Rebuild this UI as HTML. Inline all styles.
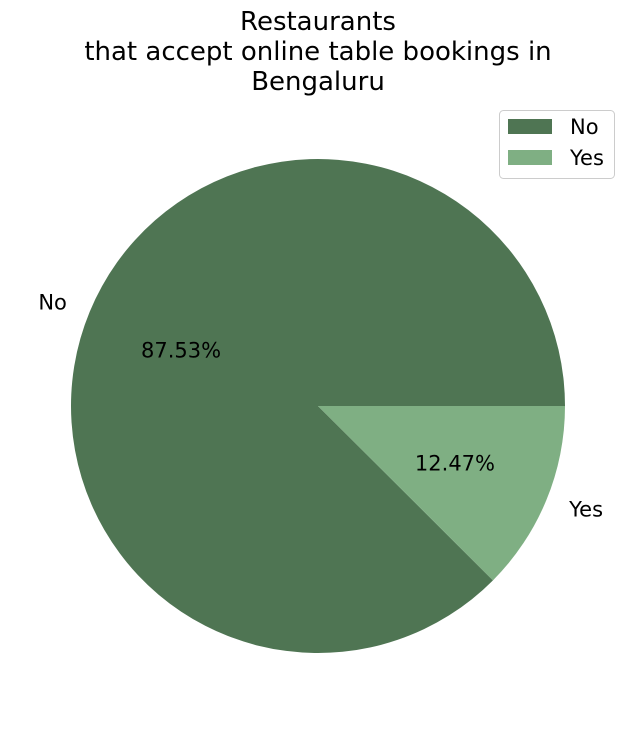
<!DOCTYPE html>
<html><head><meta charset="utf-8"><style>
body{margin:0;background:#fff;font-family:"Liberation Sans","DejaVu Sans",sans-serif;}
svg text{font-family:"DejaVu Sans","Liberation Sans",sans-serif;}
</style></head><body>
<svg id="chart" width="636" height="724">
<g>
<text x="318" y="30" font-size="26" text-anchor="middle">Restaurants</text>
<text x="318" y="60" font-size="26" text-anchor="middle">that accept online table bookings in</text>
<text x="318" y="90" font-size="26" text-anchor="middle">Bengaluru</text>
</g>
<g id="slices"></g>
<g>
<rect x="499.5" y="110.5" width="115" height="68" rx="4" fill="#fff" stroke="#ccc"/>
<rect x="508" y="119" width="44" height="15" fill="#4f7553"/>
<text x="570" y="134" font-size="21">No</text>
<rect x="508" y="150" width="44" height="15" fill="#7faf83"/>
<text x="570" y="165" font-size="21">Yes</text>
</g>
</svg>
<script>
const categories = ["No", "Yes"];
const values = [87.53, 12.47];
const colors = ["#4f7553", "#7faf83"];
const cx = 318, cy = 406, r = 247;
const g = document.getElementById('slices');
const ns = 'http://www.w3.org/2000/svg';
const total = values.reduce((a, b) => a + b, 0);
let start = 0;
values.forEach((v, i) => {
  const sweep = v / total * 2 * Math.PI;
  const end = start + sweep;
  const x1 = cx + r * Math.cos(start), y1 = cy - r * Math.sin(start);
  const x2 = cx + r * Math.cos(end), y2 = cy - r * Math.sin(end);
  const large = sweep > Math.PI ? 1 : 0;
  const p = document.createElementNS(ns, 'path');
  p.setAttribute('d', `M${cx},${cy} L${x1},${y1} A${r},${r} 0 ${large} 0 ${x2},${y2} Z`);
  p.setAttribute('fill', colors[i]);
  
  
  g.appendChild(p);
  const mid = start + sweep / 2;
  const c = Math.cos(mid), s = Math.sin(mid);
  const lt = document.createElementNS(ns, 'text');
  lt.setAttribute('x', cx + 1.1 * r * c);
  lt.setAttribute('y', cy - 1.1 * r * s + 7);
  lt.setAttribute('font-size', '21');
  lt.setAttribute('text-anchor', c < 0 ? 'end' : 'start');
  lt.textContent = categories[i];
  
  
  g.appendChild(lt);
  const pt = document.createElementNS(ns, 'text');
  pt.setAttribute('x', cx + 0.6 * r * c);
  pt.setAttribute('y', cy - 0.6 * r * s + 8);
  pt.setAttribute('font-size', '21');
  pt.setAttribute('text-anchor', 'middle');
  pt.textContent = v.toFixed(2) + '%';
  
  
  g.appendChild(pt);
  start = end;
});
</script>
</body></html>
